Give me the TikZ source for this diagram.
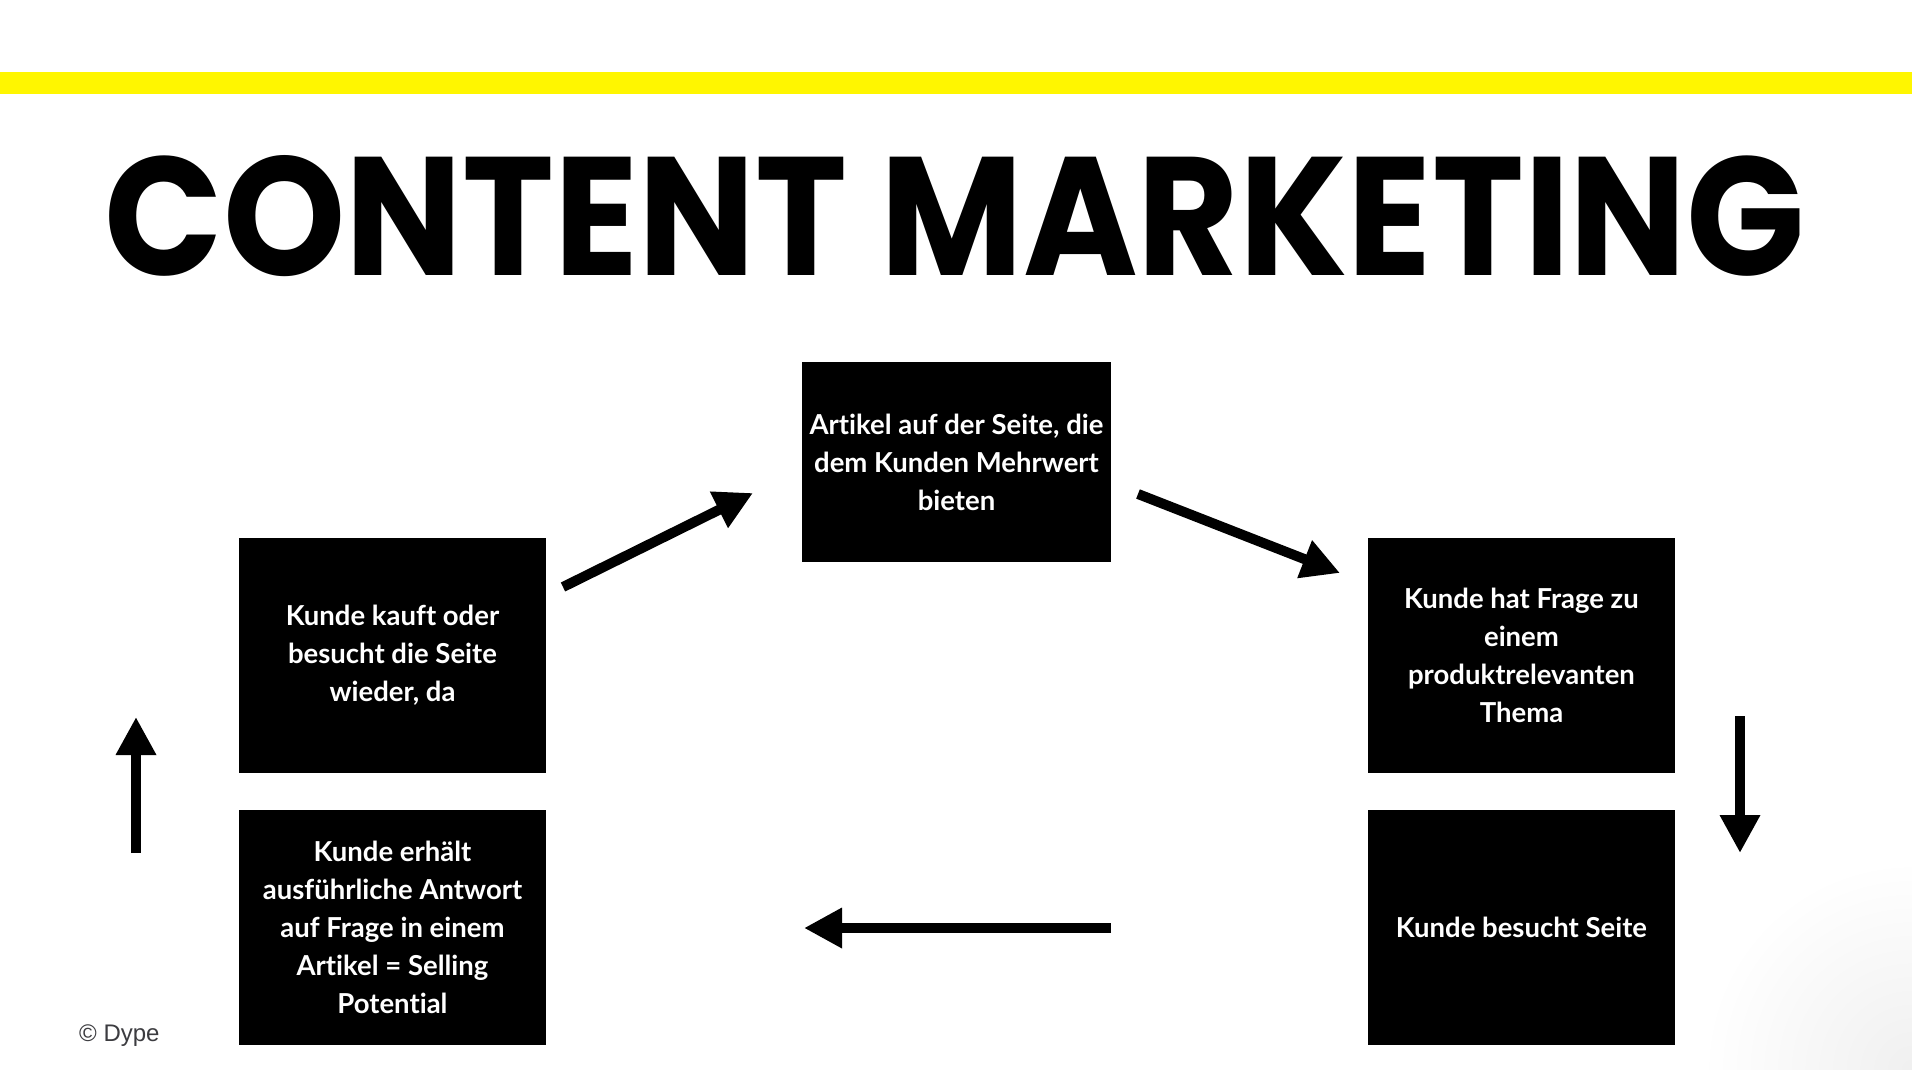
\documentclass[tikz,border=0pt]{standalone}
\usepackage{fontspec}
\usetikzlibrary{arrows.meta}
\setmainfont{Lato}[Ligatures=NoCommon]
\newfontfamily\titlefont{Poppins}
\newfontfamily\notefont{Liberation Sans}
\definecolor{barYellow}{RGB}{255,246,0}
\definecolor{noteGray}{RGB}{60,60,64}
\begin{document}
\begin{tikzpicture}[x=1pt,y=-1pt,
  stepbox/.style={fill=black, text=white, inner sep=0pt, align=center,
    font=\fontsize{27.5}{38}\selectfont\bfseries},
  flow/.style={line width=10pt, -{Triangle[length=38pt,width=38pt]}}]
  % canvas
  \useasboundingbox (0,0) rectangle (1912,1070);
  \fill[white] (0,0) rectangle (1912,1070);
  \begin{scope}
    \clip (0,0) rectangle (1912,1070);
    \shade[inner color=black!6, outer color=white] (1912,1070) circle (210);
  \end{scope}
  % header bar and title
  \fill[barYellow] (0,72) rectangle (1912,94);
  \node[inner sep=0pt] (title) at (955,216)
    {\resizebox{1700pt}{120pt}{\titlefont\bfseries CONTENT MARKETING}};
  % process boxes
  \node[stepbox, minimum width=309pt, minimum height=200pt] (article) at (956.5,462)
    {Artikel auf der Seite, die\\dem Kunden Mehrwert\\bieten};
  \node[stepbox, minimum width=307pt, minimum height=235pt] (question) at (1521.5,655.5)
    {Kunde hat Frage zu\\einem\\produktrelevanten\\Thema};
  \node[stepbox, minimum width=307pt, minimum height=235pt] (visit) at (1521.5,927.5)
    {Kunde besucht Seite};
  \node[stepbox, minimum width=307pt, minimum height=235pt] (answer) at (392.5,927.5)
    {Kunde erhält\\ausführliche Antwort\\auf Frage in einem\\Artikel = Selling\\Potential};
  \node[stepbox, minimum width=307pt, minimum height=235pt] (return) at (392.5,655.5)
    {Kunde kauft oder\\besucht die Seite\\wieder, da};
  % arrow end points
  \coordinate (a1s) at (563,587);  \coordinate (a1e) at (753,493);
  \coordinate (a2s) at (1138,494); \coordinate (a2e) at (1340,573);
  \coordinate (a3s) at (1740,716); \coordinate (a3e) at (1740,853);
  \coordinate (a4s) at (1111,928); \coordinate (a4e) at (804,928);
  \coordinate (a5s) at (136,853);  \coordinate (a5e) at (136,717);
  \draw[flow] (a1s) -- (a1e);
  \draw[flow] (a2s) -- (a2e);
  \draw[flow] (a3s) -- (a3e);
  \draw[flow] (a4s) -- (a4e);
  \draw[flow] (a5s) -- (a5e);
  % copyright
  \node[anchor=base west, inner sep=0pt, text=noteGray,
    font=\notefont\fontsize{24}{28}\selectfont] (copy) at (79,1041) {© Dype};
\end{tikzpicture}
\end{document}
